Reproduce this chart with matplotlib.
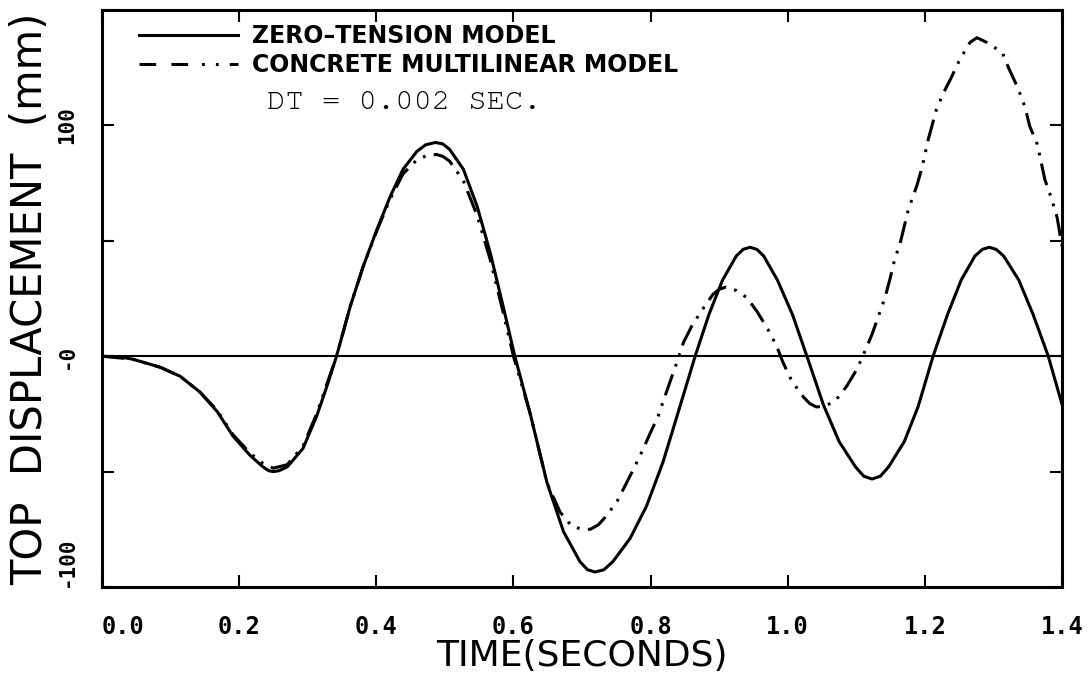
'''plot.py  top displacement history, zero-tension vs concrete multilinear model'''

import matplotlib
matplotlib.use('Agg')
import matplotlib.pyplot as plt
from matplotlib.lines import Line2D

# values
t_zero = [0.0, 0.03, 0.045, 0.06, 0.085, 0.114, 0.143, 0.168, 0.191, 0.216, 0.235,
          0.243, 0.25, 0.258, 0.27, 0.293, 0.313, 0.328, 0.342, 0.362, 0.381, 0.401,
          0.42, 0.439, 0.459, 0.472, 0.486, 0.497, 0.507, 0.527, 0.547, 0.566,
          0.585, 0.602, 0.624, 0.649, 0.673, 0.697, 0.708, 0.719, 0.732, 0.745,
          0.77, 0.794, 0.818, 0.843, 0.865, 0.885, 0.905, 0.925, 0.935, 0.945,
          0.955, 0.965, 0.985, 1.007, 1.028, 1.052, 1.075, 1.099, 1.111, 1.123,
          1.135, 1.147, 1.17, 1.19, 1.212, 1.233, 1.253, 1.273, 1.284, 1.294,
          1.304, 1.315, 1.337, 1.358, 1.38, 1.4]
d_zero = [0.0, -0.5, -1.3, -2.6, -4.8, -8.7, -15.6, -24.0, -34.6, -43.0, -48.0,
          -49.6, -50.0, -49.6, -48.0, -40.0, -26.0, -13.0, 0.0, 21.6, 39.0, 55.0,
          69.0, 81.0, 88.7, 91.6, 92.6, 92.0, 89.6, 81.0, 65.0, 45.0,
          21.6, 0.0, -24.4, -54.8, -76.0, -89.0, -92.5, -93.5, -92.5, -89.0,
          -79.0, -65.0, -46.0, -21.6, 0.0, 18.0, 33.0, 43.4, 46.3, 47.2,
          46.3, 43.4, 33.0, 18.0, 0.0, -21.0, -37.0, -48.0, -52.0, -53.2,
          -52.0, -48.0, -37.0, -22.0, 0.0, 18.0, 33.0, 43.4, 46.3, 47.2,
          46.3, 43.4, 33.0, 18.0, 0.0, -20.8]

t_multi = [0.0, 0.045, 0.085, 0.114, 0.143, 0.168, 0.191, 0.216, 0.235, 0.25, 0.27,
           0.293, 0.313, 0.328, 0.342, 0.362, 0.381, 0.401, 0.42, 0.439, 0.459,
           0.474, 0.488, 0.497, 0.507, 0.527, 0.547, 0.566, 0.585, 0.6, 0.624,
           0.649, 0.668, 0.685, 0.698, 0.712, 0.724, 0.734, 0.751, 0.775, 0.787,
           0.8, 0.811, 0.821, 0.84, 0.848, 0.86, 0.875, 0.891, 0.9, 0.909, 0.925,
           0.94, 0.955, 0.971, 0.984, 0.993, 1.006, 1.023, 1.032, 1.042, 1.055,
           1.069, 1.086, 1.101, 1.11, 1.123, 1.142, 1.149, 1.156, 1.164, 1.176,
           1.188, 1.196, 1.205, 1.217, 1.227, 1.239, 1.251, 1.266, 1.276, 1.29,
           1.313, 1.322, 1.336, 1.346, 1.353, 1.364, 1.375, 1.385, 1.393, 1.4]
d_multi = [0.0, -1.3, -4.8, -8.7, -15.6, -23.5, -34.0, -42.0, -46.5, -48.5, -47.0,
           -39.0, -25.0, -12.0, 0.0, 21.6, 39.0, 54.5, 68.0, 79.0, 85.0,
           87.0, 87.4, 86.6, 84.5, 76.0, 61.0, 42.0, 19.0, 0.0, -24.4,
           -55.0, -67.5, -73.6, -74.8, -75.0, -73.0, -69.7, -63.0, -49.0, -41.6,
           -33.0, -26.0, -17.3, -1.3, 6.0, 13.0, 20.0, 26.8, 29.0, 29.9, 28.5,
           25.5, 19.5, 11.7, 4.3, -2.6, -10.8, -17.7, -20.5, -22.0, -21.5,
           -19.5, -13.0, -5.6, 0.4, 9.5, 25.5, 33.3, 42.0, 49.0, 63.6,
           73.6, 81.8, 94.0, 107.0, 114.0, 121.0, 128.6, 136.0, 138.0, 136.0,
           131.6, 125.0, 116.0, 108.0, 99.6, 91.8, 76.6, 68.0, 60.0, 47.6]

xticks = [0.0, 0.2, 0.4, 0.6, 0.8, 1.0, 1.2, 1.4]
xtick_labels = ['0.0', '0.2', '0.4', '0.6', '0.8', '1.0', '1.2', '1.4']
yticks = [-100, -50, 0, 50, 100, 150]
ytick_labels = ['-100', '', '-0', '', '100', '']

plt.rcParams['lines.scale_dashes'] = False
narrow = ['Liberation Sans Narrow', 'DejaVu Sans']
mono = ['DejaVu Sans Mono']
typewriter = ['Nimbus Mono PS', 'FreeMono', 'Courier New', 'Liberation Mono']

fig = plt.figure(figsize=(10.9, 6.81), dpi=100)
ax = fig.add_axes([0.0936, 0.138, 0.8807, 0.8473])

ax.axhline(0, color='black', lw=1.5)
ax.plot(t_zero, d_zero, color='black', lw=2.2, solid_joinstyle='round')
ax.plot(t_multi, d_multi, color='black', lw=2.2,
        dashes=[16, 6, 2, 6, 2, 6])

ax.set_xlim(0, 1.4)
ax.set_ylim(-100, 150)

for s in ax.spines.values():
  s.set_linewidth(2.2)

ax.set_xticks(xticks)
ax.set_xticklabels(xtick_labels, family=mono, fontsize=17, fontweight='bold')
ax.set_yticks(yticks)
ax.set_yticklabels(ytick_labels, family=mono, fontsize=15, fontweight='bold',
                   rotation=90, va='center')
ax.get_xticklabels()[0].set_horizontalalignment('left')
ax.get_yticklabels()[0].set_verticalalignment('bottom')
ax.tick_params(axis='both', direction='in', length=8.5, width=1.5,
               top=True, right=True)
ax.tick_params(axis='x', pad=20)
ax.tick_params(axis='y', pad=18)

ax.set_xlabel('TIME(SECONDS)', family=narrow, fontsize=26, labelpad=0)
ax.set_ylabel('TOP  DISPLACEMENT  (mm)', family=narrow, fontsize=30, labelpad=4)

h1 = Line2D([], [], color='black', lw=2.2)
h2 = Line2D([], [], color='black', lw=2.2, dashes=[12, 11, 12, 10, 2, 8, 2, 8])
leg = ax.legend([h1, h2], ['ZERO\u2013TENSION MODEL', 'CONCRETE MULTILINEAR MODEL'],
                loc='upper left', bbox_to_anchor=(0.038, 0.975), frameon=False,
                handlelength=4.2, handletextpad=0.6, labelspacing=0.2,
                borderpad=0, borderaxespad=0,
                prop={'family': narrow, 'size': 17, 'weight': 'bold'})

ax.text(0.172, 0.839, 'DT = 0.002 SEC.', transform=ax.transAxes,
        family=typewriter, fontsize=22, va='center', ha='left')

plt.savefig('out.png', dpi=100)
